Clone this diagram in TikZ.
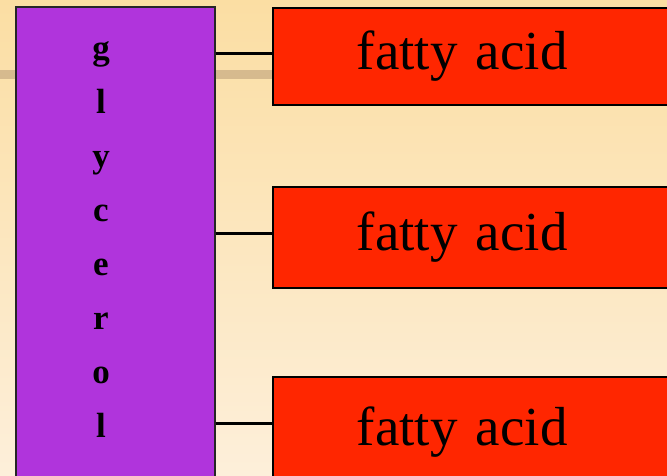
\documentclass[tikz,border=0pt]{standalone}
\usepackage{fontspec}
\setmainfont{Liberation Serif}
\newfontfamily\fafont[WordSpace=0.6]{Liberation Serif}
\definecolor{bgtop}{RGB}{251,222,163}
\definecolor{bgbot}{RGB}{253,239,218}
\definecolor{tanbar}{RGB}{214,186,142}
\definecolor{glypurple}{RGB}{176,52,220}
\definecolor{fared}{RGB}{255,38,0}
\tikzset{
  glybox/.style={draw=black!85, line width=1.5pt, fill=glypurple, anchor=north west, inner sep=0pt},
  fabox/.style={draw=black, line width=1.5pt, fill=fared, anchor=north west, minimum width=440pt,
    text width=300pt, align=left, inner xsep=84pt, inner ysep=0pt,
    font=\fafont\fontsize{55}{55}\selectfont},
  conn/.style={draw=black, line width=3pt},
}
\begin{document}
\begin{tikzpicture}[x=1pt,y=-1pt]
\useasboundingbox (0,0) rectangle (667,475);
\clip (0,0) rectangle (667,475);
\shade[top color=bgtop, bottom color=bgbot] (0,0) rectangle (667,475);
\fill[tanbar] (0,70) rectangle (275,79);
\node[glybox, minimum width=199pt, minimum height=480pt] (gly) at (15,6) {};
\node[anchor=north, align=center, inner sep=0pt, font=\fontsize{35}{54.1}\selectfont\bfseries] (glytext) at (101,41) {g\\l\\y\\c\\e\\r\\o\\l};
\node[fabox, minimum height=97pt] (fa1) at (272,7) {fatty acid};
\node[fabox, minimum height=101pt] (fa2) at (272,186) {fatty acid};
\node[fabox, minimum height=110pt] (fa3) at (272,376) {fatty acid};
\coordinate (j1) at ([yshift=2.5pt]fa1.west);
\coordinate (j2) at ([yshift=3.5pt]fa2.west);
\coordinate (j3) at ([yshift=8pt]fa3.west);
\draw[conn] (gly.east |- j1) -- (j1);
\draw[conn] (gly.east |- j2) -- (j2);
\draw[conn] (gly.east |- j3) -- (j3);
\end{tikzpicture}
\end{document}
